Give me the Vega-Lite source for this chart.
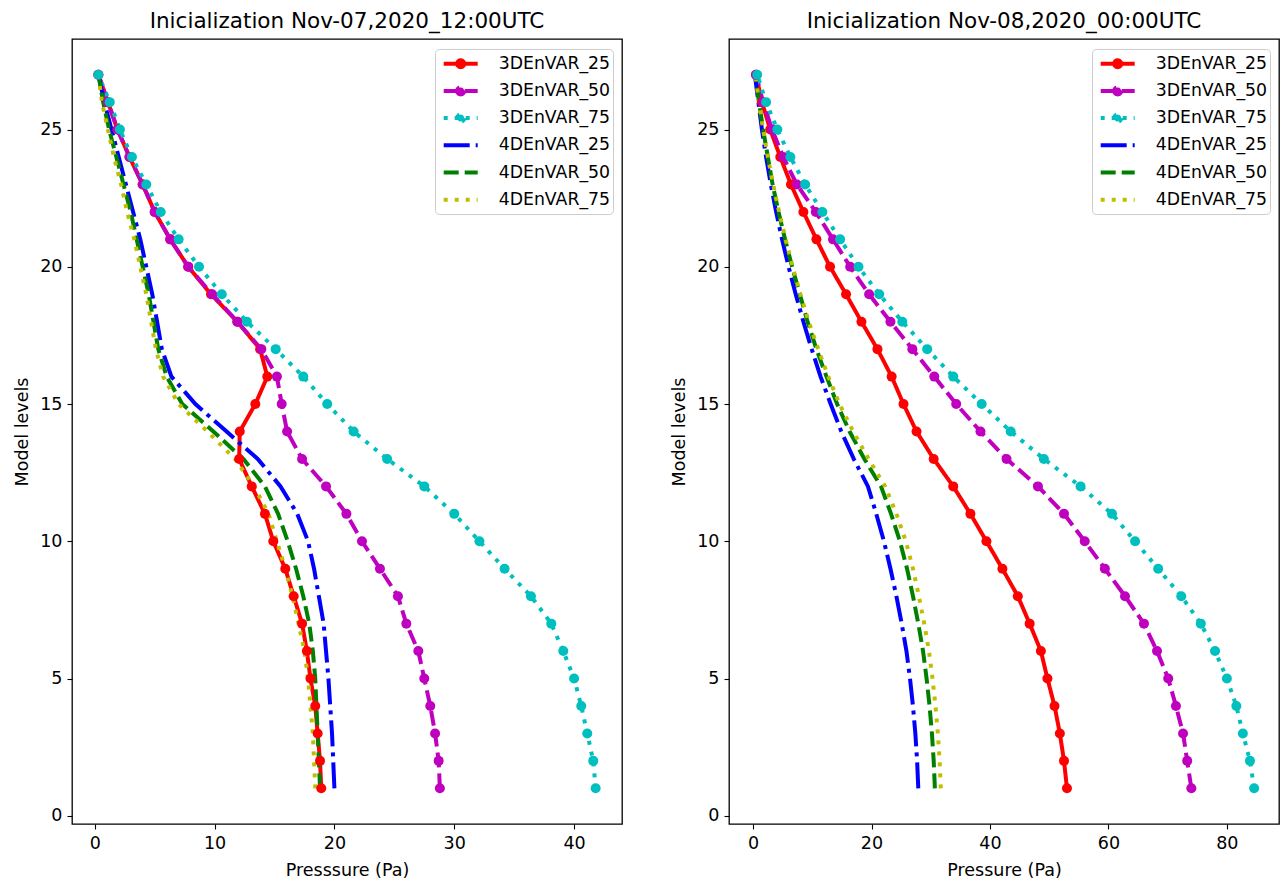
{
  "$schema": "https://vega.github.io/schema/vega-lite/v6.json",
  "padding": {"top": 9, "left": 13, "right": 0, "bottom": 0},
  "background": "white",
  "config": {
    "view": {"stroke": "black", "strokeWidth": 1.3},
    "axis": {"domain": false, "grid": false, "ticks": true, "tickSize": 5, "tickColor": "black", "tickWidth": 1.1,
      "labelFont": "DejaVu Sans", "labelFontSize": 17.5, "labelColor": "black", "labelPadding": 5,
      "titleFont": "DejaVu Sans", "titleFontSize": 17.5, "titleFontWeight": "normal", "titleColor": "black", "titlePadding": 8},
    "axisX": {"titlePadding": 10},
    "title": {"font": "DejaVu Sans", "fontSize": 21.5, "fontWeight": "normal", "color": "black", "offset": 7, "anchor": "middle", "frame": "group"},
    "legend": {"orient": "top-right", "offset": 9.5, "strokeColor": "#cccccc", "fillColor": "rgba(255,255,255,0.8)", "cornerRadius": 4, "padding": 2.7,
      "labelFont": "DejaVu Sans", "labelFontSize": 17.3, "labelColor": "black", "labelOffset": 26, "rowPadding": 3.2,
      "symbolSize": 400, "symbolStrokeWidth": 4, "symbolOffset": 11},
    "concat": {"spacing": 47}
  },
  "datasets": {
    "left": [
      {"s":"3DEnVAR_25","lev":1,"p":18.9},{"s":"3DEnVAR_25","lev":2,"p":18.8},{"s":"3DEnVAR_25","lev":3,"p":18.6},{"s":"3DEnVAR_25","lev":4,"p":18.4},{"s":"3DEnVAR_25","lev":5,"p":18.0},{"s":"3DEnVAR_25","lev":6,"p":17.7},{"s":"3DEnVAR_25","lev":7,"p":17.3},{"s":"3DEnVAR_25","lev":8,"p":16.6},{"s":"3DEnVAR_25","lev":9,"p":15.9},{"s":"3DEnVAR_25","lev":10,"p":14.9},{"s":"3DEnVAR_25","lev":11,"p":14.2},{"s":"3DEnVAR_25","lev":12,"p":13.1},{"s":"3DEnVAR_25","lev":13,"p":12.05},{"s":"3DEnVAR_25","lev":14,"p":12.1},{"s":"3DEnVAR_25","lev":15,"p":13.4},{"s":"3DEnVAR_25","lev":16,"p":14.4},{"s":"3DEnVAR_25","lev":17,"p":13.8},{"s":"3DEnVAR_25","lev":18,"p":11.9},{"s":"3DEnVAR_25","lev":19,"p":9.7},{"s":"3DEnVAR_25","lev":20,"p":7.8},{"s":"3DEnVAR_25","lev":21,"p":6.3},{"s":"3DEnVAR_25","lev":22,"p":5.0},{"s":"3DEnVAR_25","lev":23,"p":4.0},{"s":"3DEnVAR_25","lev":24,"p":2.9},{"s":"3DEnVAR_25","lev":25,"p":1.9},{"s":"3DEnVAR_25","lev":26,"p":1.1},{"s":"3DEnVAR_25","lev":27,"p":0.3},
      {"s":"3DEnVAR_50","lev":1,"p":28.8},{"s":"3DEnVAR_50","lev":2,"p":28.7},{"s":"3DEnVAR_50","lev":3,"p":28.4},{"s":"3DEnVAR_50","lev":4,"p":28.0},{"s":"3DEnVAR_50","lev":5,"p":27.5},{"s":"3DEnVAR_50","lev":6,"p":27.0},{"s":"3DEnVAR_50","lev":7,"p":26.0},{"s":"3DEnVAR_50","lev":8,"p":25.3},{"s":"3DEnVAR_50","lev":9,"p":23.8},{"s":"3DEnVAR_50","lev":10,"p":22.3},{"s":"3DEnVAR_50","lev":11,"p":21.0},{"s":"3DEnVAR_50","lev":12,"p":19.3},{"s":"3DEnVAR_50","lev":13,"p":17.3},{"s":"3DEnVAR_50","lev":14,"p":16.05},{"s":"3DEnVAR_50","lev":15,"p":15.6},{"s":"3DEnVAR_50","lev":16,"p":15.2},{"s":"3DEnVAR_50","lev":17,"p":13.9},{"s":"3DEnVAR_50","lev":18,"p":11.9},{"s":"3DEnVAR_50","lev":19,"p":9.8},{"s":"3DEnVAR_50","lev":20,"p":7.8},{"s":"3DEnVAR_50","lev":21,"p":6.3},{"s":"3DEnVAR_50","lev":22,"p":5.0},{"s":"3DEnVAR_50","lev":23,"p":4.0},{"s":"3DEnVAR_50","lev":24,"p":2.9},{"s":"3DEnVAR_50","lev":25,"p":1.9},{"s":"3DEnVAR_50","lev":26,"p":1.1},{"s":"3DEnVAR_50","lev":27,"p":0.3},
      {"s":"3DEnVAR_75","lev":1,"p":41.8},{"s":"3DEnVAR_75","lev":2,"p":41.6},{"s":"3DEnVAR_75","lev":3,"p":41.1},{"s":"3DEnVAR_75","lev":4,"p":40.6},{"s":"3DEnVAR_75","lev":5,"p":40.0},{"s":"3DEnVAR_75","lev":6,"p":39.1},{"s":"3DEnVAR_75","lev":7,"p":38.1},{"s":"3DEnVAR_75","lev":8,"p":36.4},{"s":"3DEnVAR_75","lev":9,"p":34.2},{"s":"3DEnVAR_75","lev":10,"p":32.1},{"s":"3DEnVAR_75","lev":11,"p":30.0},{"s":"3DEnVAR_75","lev":12,"p":27.5},{"s":"3DEnVAR_75","lev":13,"p":24.4},{"s":"3DEnVAR_75","lev":14,"p":21.6},{"s":"3DEnVAR_75","lev":15,"p":19.4},{"s":"3DEnVAR_75","lev":16,"p":17.4},{"s":"3DEnVAR_75","lev":17,"p":15.1},{"s":"3DEnVAR_75","lev":18,"p":12.7},{"s":"3DEnVAR_75","lev":19,"p":10.6},{"s":"3DEnVAR_75","lev":20,"p":8.7},{"s":"3DEnVAR_75","lev":21,"p":7.0},{"s":"3DEnVAR_75","lev":22,"p":5.5},{"s":"3DEnVAR_75","lev":23,"p":4.3},{"s":"3DEnVAR_75","lev":24,"p":3.1},{"s":"3DEnVAR_75","lev":25,"p":2.1},{"s":"3DEnVAR_75","lev":26,"p":1.25},{"s":"3DEnVAR_75","lev":27,"p":0.3},
      {"s":"4DEnVAR_25","lev":1,"p":20.0},{"s":"4DEnVAR_25","lev":2,"p":19.9},{"s":"4DEnVAR_25","lev":3,"p":19.8},{"s":"4DEnVAR_25","lev":4,"p":19.65},{"s":"4DEnVAR_25","lev":5,"p":19.5},{"s":"4DEnVAR_25","lev":6,"p":19.3},{"s":"4DEnVAR_25","lev":7,"p":19.1},{"s":"4DEnVAR_25","lev":8,"p":18.7},{"s":"4DEnVAR_25","lev":9,"p":18.3},{"s":"4DEnVAR_25","lev":10,"p":17.8},{"s":"4DEnVAR_25","lev":11,"p":16.9},{"s":"4DEnVAR_25","lev":12,"p":15.5},{"s":"4DEnVAR_25","lev":13,"p":13.6},{"s":"4DEnVAR_25","lev":14,"p":11.0},{"s":"4DEnVAR_25","lev":15,"p":8.4},{"s":"4DEnVAR_25","lev":16,"p":6.4},{"s":"4DEnVAR_25","lev":17,"p":5.6},{"s":"4DEnVAR_25","lev":18,"p":5.2},{"s":"4DEnVAR_25","lev":19,"p":4.8},{"s":"4DEnVAR_25","lev":20,"p":4.3},{"s":"4DEnVAR_25","lev":21,"p":3.8},{"s":"4DEnVAR_25","lev":22,"p":3.2},{"s":"4DEnVAR_25","lev":23,"p":2.6},{"s":"4DEnVAR_25","lev":24,"p":2.0},{"s":"4DEnVAR_25","lev":25,"p":1.4},{"s":"4DEnVAR_25","lev":26,"p":0.8},{"s":"4DEnVAR_25","lev":27,"p":0.3},
      {"s":"4DEnVAR_50","lev":1,"p":18.8},{"s":"4DEnVAR_50","lev":2,"p":18.7},{"s":"4DEnVAR_50","lev":3,"p":18.6},{"s":"4DEnVAR_50","lev":4,"p":18.5},{"s":"4DEnVAR_50","lev":5,"p":18.4},{"s":"4DEnVAR_50","lev":6,"p":18.2},{"s":"4DEnVAR_50","lev":7,"p":17.9},{"s":"4DEnVAR_50","lev":8,"p":17.4},{"s":"4DEnVAR_50","lev":9,"p":16.8},{"s":"4DEnVAR_50","lev":10,"p":16.1},{"s":"4DEnVAR_50","lev":11,"p":15.3},{"s":"4DEnVAR_50","lev":12,"p":14.2},{"s":"4DEnVAR_50","lev":13,"p":12.4},{"s":"4DEnVAR_50","lev":14,"p":9.9},{"s":"4DEnVAR_50","lev":15,"p":7.3},{"s":"4DEnVAR_50","lev":16,"p":6.0},{"s":"4DEnVAR_50","lev":17,"p":5.3},{"s":"4DEnVAR_50","lev":18,"p":4.9},{"s":"4DEnVAR_50","lev":19,"p":4.5},{"s":"4DEnVAR_50","lev":20,"p":4.0},{"s":"4DEnVAR_50","lev":21,"p":3.5},{"s":"4DEnVAR_50","lev":22,"p":3.0},{"s":"4DEnVAR_50","lev":23,"p":2.4},{"s":"4DEnVAR_50","lev":24,"p":1.8},{"s":"4DEnVAR_50","lev":25,"p":1.2},{"s":"4DEnVAR_50","lev":26,"p":0.7},{"s":"4DEnVAR_50","lev":27,"p":0.3},
      {"s":"4DEnVAR_75","lev":1,"p":18.4},{"s":"4DEnVAR_75","lev":2,"p":18.3},{"s":"4DEnVAR_75","lev":3,"p":18.2},{"s":"4DEnVAR_75","lev":4,"p":18.0},{"s":"4DEnVAR_75","lev":5,"p":17.8},{"s":"4DEnVAR_75","lev":6,"p":17.5},{"s":"4DEnVAR_75","lev":7,"p":17.0},{"s":"4DEnVAR_75","lev":8,"p":16.5},{"s":"4DEnVAR_75","lev":9,"p":15.9},{"s":"4DEnVAR_75","lev":10,"p":15.2},{"s":"4DEnVAR_75","lev":11,"p":14.5},{"s":"4DEnVAR_75","lev":12,"p":13.3},{"s":"4DEnVAR_75","lev":13,"p":11.7},{"s":"4DEnVAR_75","lev":14,"p":9.4},{"s":"4DEnVAR_75","lev":15,"p":7.0},{"s":"4DEnVAR_75","lev":16,"p":5.7},{"s":"4DEnVAR_75","lev":17,"p":5.1},{"s":"4DEnVAR_75","lev":18,"p":4.7},{"s":"4DEnVAR_75","lev":19,"p":4.3},{"s":"4DEnVAR_75","lev":20,"p":3.8},{"s":"4DEnVAR_75","lev":21,"p":3.3},{"s":"4DEnVAR_75","lev":22,"p":2.7},{"s":"4DEnVAR_75","lev":23,"p":2.2},{"s":"4DEnVAR_75","lev":24,"p":1.6},{"s":"4DEnVAR_75","lev":25,"p":1.1},{"s":"4DEnVAR_75","lev":26,"p":0.6},{"s":"4DEnVAR_75","lev":27,"p":0.3}
    ],
    "right": [
      {"s":"3DEnVAR_25","lev":1,"p":53.0},{"s":"3DEnVAR_25","lev":2,"p":52.5},{"s":"3DEnVAR_25","lev":3,"p":51.8},{"s":"3DEnVAR_25","lev":4,"p":50.9},{"s":"3DEnVAR_25","lev":5,"p":49.7},{"s":"3DEnVAR_25","lev":6,"p":48.6},{"s":"3DEnVAR_25","lev":7,"p":46.7},{"s":"3DEnVAR_25","lev":8,"p":44.7},{"s":"3DEnVAR_25","lev":9,"p":42.1},{"s":"3DEnVAR_25","lev":10,"p":39.4},{"s":"3DEnVAR_25","lev":11,"p":36.7},{"s":"3DEnVAR_25","lev":12,"p":33.8},{"s":"3DEnVAR_25","lev":13,"p":30.5},{"s":"3DEnVAR_25","lev":14,"p":27.6},{"s":"3DEnVAR_25","lev":15,"p":25.4},{"s":"3DEnVAR_25","lev":16,"p":23.4},{"s":"3DEnVAR_25","lev":17,"p":21.0},{"s":"3DEnVAR_25","lev":18,"p":18.3},{"s":"3DEnVAR_25","lev":19,"p":15.7},{"s":"3DEnVAR_25","lev":20,"p":13.0},{"s":"3DEnVAR_25","lev":21,"p":10.7},{"s":"3DEnVAR_25","lev":22,"p":8.5},{"s":"3DEnVAR_25","lev":23,"p":6.4},{"s":"3DEnVAR_25","lev":24,"p":4.6},{"s":"3DEnVAR_25","lev":25,"p":2.9},{"s":"3DEnVAR_25","lev":26,"p":1.5},{"s":"3DEnVAR_25","lev":27,"p":0.5},
      {"s":"3DEnVAR_50","lev":1,"p":74.0},{"s":"3DEnVAR_50","lev":2,"p":73.3},{"s":"3DEnVAR_50","lev":3,"p":72.6},{"s":"3DEnVAR_50","lev":4,"p":71.4},{"s":"3DEnVAR_50","lev":5,"p":70.1},{"s":"3DEnVAR_50","lev":6,"p":68.2},{"s":"3DEnVAR_50","lev":7,"p":66.0},{"s":"3DEnVAR_50","lev":8,"p":62.8},{"s":"3DEnVAR_50","lev":9,"p":59.4},{"s":"3DEnVAR_50","lev":10,"p":56.0},{"s":"3DEnVAR_50","lev":11,"p":52.5},{"s":"3DEnVAR_50","lev":12,"p":48.1},{"s":"3DEnVAR_50","lev":13,"p":42.8},{"s":"3DEnVAR_50","lev":14,"p":38.4},{"s":"3DEnVAR_50","lev":15,"p":34.3},{"s":"3DEnVAR_50","lev":16,"p":30.6},{"s":"3DEnVAR_50","lev":17,"p":26.9},{"s":"3DEnVAR_50","lev":18,"p":23.2},{"s":"3DEnVAR_50","lev":19,"p":19.6},{"s":"3DEnVAR_50","lev":20,"p":16.4},{"s":"3DEnVAR_50","lev":21,"p":13.5},{"s":"3DEnVAR_50","lev":22,"p":10.6},{"s":"3DEnVAR_50","lev":23,"p":7.4},{"s":"3DEnVAR_50","lev":24,"p":5.1},{"s":"3DEnVAR_50","lev":25,"p":3.2},{"s":"3DEnVAR_50","lev":26,"p":1.7},{"s":"3DEnVAR_50","lev":27,"p":0.5},
      {"s":"3DEnVAR_75","lev":1,"p":84.6},{"s":"3DEnVAR_75","lev":2,"p":83.9},{"s":"3DEnVAR_75","lev":3,"p":82.7},{"s":"3DEnVAR_75","lev":4,"p":81.6},{"s":"3DEnVAR_75","lev":5,"p":80.0},{"s":"3DEnVAR_75","lev":6,"p":78.0},{"s":"3DEnVAR_75","lev":7,"p":75.6},{"s":"3DEnVAR_75","lev":8,"p":72.3},{"s":"3DEnVAR_75","lev":9,"p":68.4},{"s":"3DEnVAR_75","lev":10,"p":64.5},{"s":"3DEnVAR_75","lev":11,"p":60.6},{"s":"3DEnVAR_75","lev":12,"p":55.3},{"s":"3DEnVAR_75","lev":13,"p":49.1},{"s":"3DEnVAR_75","lev":14,"p":43.5},{"s":"3DEnVAR_75","lev":15,"p":38.6},{"s":"3DEnVAR_75","lev":16,"p":33.8},{"s":"3DEnVAR_75","lev":17,"p":29.4},{"s":"3DEnVAR_75","lev":18,"p":25.2},{"s":"3DEnVAR_75","lev":19,"p":21.3},{"s":"3DEnVAR_75","lev":20,"p":17.8},{"s":"3DEnVAR_75","lev":21,"p":14.7},{"s":"3DEnVAR_75","lev":22,"p":11.7},{"s":"3DEnVAR_75","lev":23,"p":8.8},{"s":"3DEnVAR_75","lev":24,"p":6.3},{"s":"3DEnVAR_75","lev":25,"p":4.1},{"s":"3DEnVAR_75","lev":26,"p":2.2},{"s":"3DEnVAR_75","lev":27,"p":0.7},
      {"s":"4DEnVAR_25","lev":1,"p":27.9},{"s":"4DEnVAR_25","lev":2,"p":27.7},{"s":"4DEnVAR_25","lev":3,"p":27.4},{"s":"4DEnVAR_25","lev":4,"p":27.0},{"s":"4DEnVAR_25","lev":5,"p":26.5},{"s":"4DEnVAR_25","lev":6,"p":25.9},{"s":"4DEnVAR_25","lev":7,"p":25.1},{"s":"4DEnVAR_25","lev":8,"p":24.2},{"s":"4DEnVAR_25","lev":9,"p":23.2},{"s":"4DEnVAR_25","lev":10,"p":22.1},{"s":"4DEnVAR_25","lev":11,"p":20.8},{"s":"4DEnVAR_25","lev":12,"p":19.4},{"s":"4DEnVAR_25","lev":13,"p":17.0},{"s":"4DEnVAR_25","lev":14,"p":14.9},{"s":"4DEnVAR_25","lev":15,"p":13.1},{"s":"4DEnVAR_25","lev":16,"p":11.4},{"s":"4DEnVAR_25","lev":17,"p":9.9},{"s":"4DEnVAR_25","lev":18,"p":8.5},{"s":"4DEnVAR_25","lev":19,"p":7.2},{"s":"4DEnVAR_25","lev":20,"p":6.0},{"s":"4DEnVAR_25","lev":21,"p":4.9},{"s":"4DEnVAR_25","lev":22,"p":3.9},{"s":"4DEnVAR_25","lev":23,"p":3.0},{"s":"4DEnVAR_25","lev":24,"p":2.2},{"s":"4DEnVAR_25","lev":25,"p":1.5},{"s":"4DEnVAR_25","lev":26,"p":0.9},{"s":"4DEnVAR_25","lev":27,"p":0.3},
      {"s":"4DEnVAR_50","lev":1,"p":30.7},{"s":"4DEnVAR_50","lev":2,"p":30.5},{"s":"4DEnVAR_50","lev":3,"p":30.2},{"s":"4DEnVAR_50","lev":4,"p":29.8},{"s":"4DEnVAR_50","lev":5,"p":29.3},{"s":"4DEnVAR_50","lev":6,"p":28.7},{"s":"4DEnVAR_50","lev":7,"p":27.9},{"s":"4DEnVAR_50","lev":8,"p":27.0},{"s":"4DEnVAR_50","lev":9,"p":26.0},{"s":"4DEnVAR_50","lev":10,"p":24.8},{"s":"4DEnVAR_50","lev":11,"p":23.3},{"s":"4DEnVAR_50","lev":12,"p":21.6},{"s":"4DEnVAR_50","lev":13,"p":18.8},{"s":"4DEnVAR_50","lev":14,"p":16.3},{"s":"4DEnVAR_50","lev":15,"p":14.2},{"s":"4DEnVAR_50","lev":16,"p":12.4},{"s":"4DEnVAR_50","lev":17,"p":10.7},{"s":"4DEnVAR_50","lev":18,"p":9.2},{"s":"4DEnVAR_50","lev":19,"p":7.9},{"s":"4DEnVAR_50","lev":20,"p":6.6},{"s":"4DEnVAR_50","lev":21,"p":5.4},{"s":"4DEnVAR_50","lev":22,"p":4.3},{"s":"4DEnVAR_50","lev":23,"p":3.3},{"s":"4DEnVAR_50","lev":24,"p":2.5},{"s":"4DEnVAR_50","lev":25,"p":1.7},{"s":"4DEnVAR_50","lev":26,"p":1.0},{"s":"4DEnVAR_50","lev":27,"p":0.4},
      {"s":"4DEnVAR_75","lev":1,"p":31.7},{"s":"4DEnVAR_75","lev":2,"p":31.5},{"s":"4DEnVAR_75","lev":3,"p":31.2},{"s":"4DEnVAR_75","lev":4,"p":30.8},{"s":"4DEnVAR_75","lev":5,"p":30.3},{"s":"4DEnVAR_75","lev":6,"p":29.7},{"s":"4DEnVAR_75","lev":7,"p":28.9},{"s":"4DEnVAR_75","lev":8,"p":28.0},{"s":"4DEnVAR_75","lev":9,"p":27.0},{"s":"4DEnVAR_75","lev":10,"p":25.8},{"s":"4DEnVAR_75","lev":11,"p":24.2},{"s":"4DEnVAR_75","lev":12,"p":22.3},{"s":"4DEnVAR_75","lev":13,"p":19.5},{"s":"4DEnVAR_75","lev":14,"p":16.9},{"s":"4DEnVAR_75","lev":15,"p":14.6},{"s":"4DEnVAR_75","lev":16,"p":12.7},{"s":"4DEnVAR_75","lev":17,"p":11.0},{"s":"4DEnVAR_75","lev":18,"p":9.4},{"s":"4DEnVAR_75","lev":19,"p":8.0},{"s":"4DEnVAR_75","lev":20,"p":6.7},{"s":"4DEnVAR_75","lev":21,"p":5.5},{"s":"4DEnVAR_75","lev":22,"p":4.4},{"s":"4DEnVAR_75","lev":23,"p":3.4},{"s":"4DEnVAR_75","lev":24,"p":2.5},{"s":"4DEnVAR_75","lev":25,"p":1.7},{"s":"4DEnVAR_75","lev":26,"p":1.0},{"s":"4DEnVAR_75","lev":27,"p":0.4}
    ]
  },
  "resolve": {"scale": {"color": "independent", "strokeDash": "independent"}, "legend": {"color": "independent", "strokeDash": "independent"}},
  "hconcat": [
    {
      "title": "Inicialization Nov-07,2020_12:00UTC",
      "width": 550, "height": 785,
      "data": {"name": "left"},
      "layer": [
        {
          "mark": {"type": "line", "strokeWidth": 4, "strokeCap": "butt"},
          "encoding": {
            "x": {"field": "p", "type": "quantitative", "scale": {"domain": [-1.9, 44.0], "nice": false, "zero": false}, "axis": {"title": "Presssure (Pa)", "values": [0, 10, 20, 30, 40]}},
            "y": {"field": "lev", "type": "quantitative", "scale": {"domain": [-0.3, 28.3], "nice": false, "zero": false}, "axis": {"title": "Model levels", "values": [0, 5, 10, 15, 20, 25]}},
            "order": {"field": "lev", "type": "quantitative"},
            "color": {"field": "s", "type": "nominal",
              "scale": {"domain": ["3DEnVAR_25","3DEnVAR_50","3DEnVAR_75","4DEnVAR_25","4DEnVAR_50","4DEnVAR_75"], "range": ["#ff0000","#bf00bf","#00bfbf","#0000ff","#008000","#bfbf00"]},
              "legend": {"title": null,
                "encode": {"symbols": {"update": {
                  "shape": {"signal": "indexof(datum.value, '3D') == 0 ? 'M-1.7,0H1.7M0.35,0L0.303,0.175L0.175,0.303L0,0.35L-0.175,0.303L-0.303,0.175L-0.35,0L-0.303,-0.175L-0.175,-0.303L0,-0.35L0.175,-0.303L0.303,-0.175Z' : 'M-1.7,0H1.7M0,-0.35L0,-0.35M0,0.35L0,0.35'"},
                  "fill": {"signal": "datum.value == '3DEnVAR_25' ? '#ff0000' : datum.value == '3DEnVAR_50' ? '#bf00bf' : datum.value == '3DEnVAR_75' ? '#00bfbf' : 'transparent'"},
                  "strokeDash": {"signal": "(datum.value == '3DEnVAR_50' || datum.value == '4DEnVAR_50') ? [15, 6] : (datum.value == '3DEnVAR_75' || datum.value == '4DEnVAR_75') ? [4, 7] : [1, 0]"},
                  "opacity": {"value": 1}
                }}}}},
            "strokeDash": {"field": "s", "type": "nominal", "legend": null,
              "scale": {"domain": ["3DEnVAR_25","3DEnVAR_50","3DEnVAR_75","4DEnVAR_25","4DEnVAR_50","4DEnVAR_75"], "range": [[1, 0], [15, 6], [4, 7], [26, 6, 4, 6], [15, 6], [4, 7]]}}
          }
        },
        {
          "transform": [{"filter": "indexof(datum.s, '3D') == 0"}],
          "mark": {"type": "point", "filled": true, "size": 100, "opacity": 1},
          "encoding": {
            "x": {"field": "p", "type": "quantitative"},
            "y": {"field": "lev", "type": "quantitative"},
            "color": {"field": "s", "type": "nominal", "legend": null}
          }
        }
      ]
    },
    {
      "title": "Inicialization Nov-08,2020_00:00UTC",
      "width": 550, "height": 785,
      "data": {"name": "right"},
      "layer": [
        {
          "mark": {"type": "line", "strokeWidth": 4, "strokeCap": "butt"},
          "encoding": {
            "x": {"field": "p", "type": "quantitative", "scale": {"domain": [-4.06, 88.8], "nice": false, "zero": false}, "axis": {"title": "Pressure (Pa)", "values": [0, 20, 40, 60, 80]}},
            "y": {"field": "lev", "type": "quantitative", "scale": {"domain": [-0.3, 28.3], "nice": false, "zero": false}, "axis": {"title": "Model levels", "values": [0, 5, 10, 15, 20, 25]}},
            "order": {"field": "lev", "type": "quantitative"},
            "color": {"field": "s", "type": "nominal",
              "scale": {"domain": ["3DEnVAR_25","3DEnVAR_50","3DEnVAR_75","4DEnVAR_25","4DEnVAR_50","4DEnVAR_75"], "range": ["#ff0000","#bf00bf","#00bfbf","#0000ff","#008000","#bfbf00"]},
              "legend": {"title": null,
                "encode": {"symbols": {"update": {
                  "shape": {"signal": "indexof(datum.value, '3D') == 0 ? 'M-1.7,0H1.7M0.35,0L0.303,0.175L0.175,0.303L0,0.35L-0.175,0.303L-0.303,0.175L-0.35,0L-0.303,-0.175L-0.175,-0.303L0,-0.35L0.175,-0.303L0.303,-0.175Z' : 'M-1.7,0H1.7M0,-0.35L0,-0.35M0,0.35L0,0.35'"},
                  "fill": {"signal": "datum.value == '3DEnVAR_25' ? '#ff0000' : datum.value == '3DEnVAR_50' ? '#bf00bf' : datum.value == '3DEnVAR_75' ? '#00bfbf' : 'transparent'"},
                  "strokeDash": {"signal": "(datum.value == '3DEnVAR_50' || datum.value == '4DEnVAR_50') ? [15, 6] : (datum.value == '3DEnVAR_75' || datum.value == '4DEnVAR_75') ? [4, 7] : [1, 0]"},
                  "opacity": {"value": 1}
                }}}}},
            "strokeDash": {"field": "s", "type": "nominal", "legend": null,
              "scale": {"domain": ["3DEnVAR_25","3DEnVAR_50","3DEnVAR_75","4DEnVAR_25","4DEnVAR_50","4DEnVAR_75"], "range": [[1, 0], [15, 6], [4, 7], [26, 6, 4, 6], [15, 6], [4, 7]]}}
          }
        },
        {
          "transform": [{"filter": "indexof(datum.s, '3D') == 0"}],
          "mark": {"type": "point", "filled": true, "size": 100, "opacity": 1},
          "encoding": {
            "x": {"field": "p", "type": "quantitative"},
            "y": {"field": "lev", "type": "quantitative"},
            "color": {"field": "s", "type": "nominal", "legend": null}
          }
        }
      ]
    }
  ]
}
